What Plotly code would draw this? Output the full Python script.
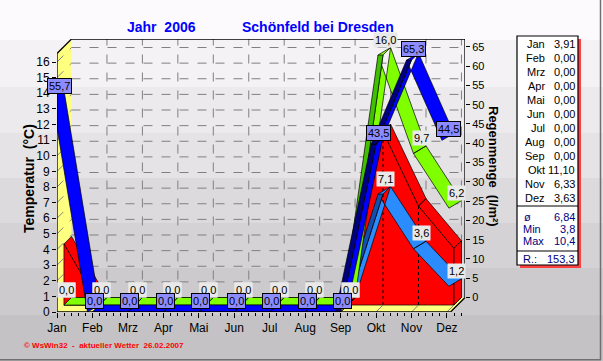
import plotly.graph_objects as go

# ---------------- data ----------------
months = ["Jan", "Feb", "Mrz", "Apr", "Mai", "Jun", "Jul", "Aug", "Sep", "Okt", "Nov", "Dez"]
temp_mean = [3.91, 0.0, 0.0, 0.0, 0.0, 0.0, 0.0, 0.0, 0.0, 11.10, 6.33, 3.63]
temp_max = [0.0, 0.0, 0.0, 0.0, 0.0, 0.0, 0.0, 0.0, 0.0, 16.0, 9.7, 6.2]
temp_min = [0.0, 0.0, 0.0, 0.0, 0.0, 0.0, 0.0, 0.0, 0.0, 7.1, 3.6, 1.2]
rain = [55.7, 0.0, 0.0, 0.0, 0.0, 0.0, 0.0, 0.0, 0.0, 43.5, 65.3, 44.5]
stat_labels = ["ø", "Min", "Max"]
stat_values = ["6,84", "3,8", "10,4"]
rain_total = "153,3"
temp_ticks = list(range(0, 17))
rain_ticks = list(range(0, 70, 5))

# ---------------- geometry (pixels) ----------------
W, H = 603, 361
PL, PR, PT, PB = 57, 465, 39, 312
MONTH_PX = 35.45
T_PX = 15.625
R_PX = 3.857
DEPTH = 14.5
XMAX = (PR - PL) / MONTH_PX
YMAX = (PB - PT) / T_PX
dX = DEPTH / MONTH_PX
dY = DEPTH / T_PX
dY2 = DEPTH / R_PX
Y2MIN = -dY2
Y2MAX = Y2MIN + (PB - PT) / R_PX
F0, F1 = 0.48, 1.0   # depth slot of the rear series
B0, B1 = 0.0, 0.48   # depth slot of the front (rain) series

def xp(px):
    return (px - PL) / (PR - PL)

def yp(py):
    return (PB - py) / (PB - PT)

xs = list(range(len(months)))
FONT = "Liberation Sans, Arial, sans-serif"


def ribbon(vals, f0, f1, dyu, yoff, w_px):
    lx, ly, dx_, dy_ = [], [], [], []
    w = w_px / MONTH_PX
    for i in range(len(vals) - 1):
        xa, xb = xs[i], xs[i + 1]
        ya, yb = vals[i] + yoff, vals[i + 1] + yoff
        fa = (xa + f0 * dX, ya + f0 * dyu)
        fb = (xb + f0 * dX, yb + f0 * dyu)
        bb = (xb + f1 * dX, yb + f1 * dyu)
        ba = (xa + f1 * dX, ya + f1 * dyu)
        if yb < ya:
            pts = ((fa[0] - w, fa[1]), (fb[0] - w, fb[1]), bb, ba, (fa[0] - w, fa[1]))
        else:
            pts = (fa, fb, bb, ba, fa)
        for p in pts:
            lx.append(p[0]); ly.append(p[1])
        lx.append(None); ly.append(None)
        if yb > ya:
            for p in ((fa[0] - w, fa[1]), (fb[0] - w, fb[1]), fb, fa, (fa[0] - w, fa[1])):
                dx_.append(p[0]); dy_.append(p[1])
            dx_.append(None); dy_.append(None)
    return lx, ly, dx_, dy_


fig = go.Figure()

# ---- red 3D area (monthly mean temperature) ----
tx, ty = [], []
for i in range(len(months) - 1):
    a, b = temp_mean[i], temp_mean[i + 1]
    pts = [(xs[i] + F0 * dX, a + F0 * dY), (xs[i + 1] + F0 * dX, b + F0 * dY),
           (xs[i + 1] + F1 * dX, b + F1 * dY), (xs[i] + F1 * dX, a + F1 * dY),
           (xs[i] + F0 * dX, a + F0 * dY)]
    for p in pts:
        tx.append(p[0]); ty.append(p[1])
    tx.append(None); ty.append(None)
fig.add_trace(go.Scatter(x=tx, y=ty, fill="toself", fillcolor="#ff0000", mode="lines",
                         line=dict(color="black", width=0.7), hoverinfo="skip", showlegend=False))
fx = [m + F0 * dX for m in xs] + [xs[-1] + F0 * dX, xs[0] + F0 * dX, xs[0] + F0 * dX]
fy = [v + F0 * dY for v in temp_mean] + [F0 * dY, F0 * dY, temp_mean[0] + F0 * dY]
fig.add_trace(go.Scatter(x=fx, y=fy, fill="toself", fillcolor="#ff0000", mode="lines",
                         line=dict(color="black", width=0.7), hoverinfo="skip", showlegend=False))
last = temp_mean[-1]
rx = [xs[-1] + F0 * dX, xs[-1] + F1 * dX, xs[-1] + F1 * dX, xs[-1] + F0 * dX, xs[-1] + F0 * dX]
ry = [last + F0 * dY, last + F1 * dY, F1 * dY, F0 * dY, last + F0 * dY]
fig.add_trace(go.Scatter(x=rx, y=ry, fill="toself", fillcolor="#ff0000", mode="lines",
                         line=dict(color="black", width=0.9), hoverinfo="skip", showlegend=False))
dlx, dly = [], []
for i in range(1, len(months) - 1):
    if temp_mean[i] > 0:
        dlx += [xs[i] + F0 * dX, xs[i] + F0 * dX, None]
        dly += [F0 * dY, temp_mean[i] + F0 * dY, None]
fig.add_trace(go.Scatter(x=dlx, y=dly, mode="lines", line=dict(color="black", width=1, dash="dot"),
                         hoverinfo="skip", showlegend=False))

# ---- ribbons ----
def add_ribbon(vals, f0, f1, dyu, yoff, light, dark, yaxis, w_px):
    lx, ly, dx_, dy_ = ribbon(vals, f0, f1, dyu, yoff, w_px)
    fig.add_trace(go.Scatter(x=lx, y=ly, fill="toself", fillcolor=light, mode="lines",
                             line=dict(color="black", width=0.7), yaxis=yaxis,
                             hoverinfo="skip", showlegend=False))
    if dx_:
        fig.add_trace(go.Scatter(x=dx_, y=dy_, fill="toself", fillcolor=dark, mode="lines",
                                 line=dict(color="black", width=0.7), yaxis=yaxis,
                                 hoverinfo="skip", showlegend=False))

add_ribbon(temp_min, F0, F1, dY, 0.0, "#2a8cff", "#1050b0", "y", 5)
add_ribbon(temp_max, F0, F1, dY, 0.0, "#80ff00", "#40c000", "y", 5)
add_ribbon(rain, B0, B1, dY2, -dY2, "#0000ff", "#000080", "y2", 5)

# ---------------- shapes ----------------
shapes = []
bands = ["#fcfafc", "#f4f2f4", "#eceaec", "#e5e3e5", "#dcdadc", "#d4d2d4", "#cccacc", "#c4c2c4"]
edges = [0, 40, 87, 133, 178, 223, 268, 315, 361]
for c, (a, b) in zip(bands, zip(edges[:-1], edges[1:])):
    shapes.append(dict(type="rect", xref="paper", yref="paper", x0=xp(0), x1=xp(W), y0=yp(b), y1=yp(a),
                       fillcolor=c, line=dict(width=0), layer="below"))
XF = XMAX - dX
shapes.append(dict(type="path", xref="x", yref="y", layer="below", fillcolor="#ffff80",
                   line=dict(width=0),
                   path=f"M 0 0 L 0 {YMAX - dY} L {dX} {YMAX} L {dX} {dY} Z"))
shapes.append(dict(type="path", xref="x", yref="y", layer="below", fillcolor="#ffff80",
                   line=dict(width=0),
                   path=f"M 0 0 L {XF} 0 L {XMAX} {dY} L {dX} {dY} Z"))
grid = dict(color="#808080", width=1, dash="dash")
for t in temp_ticks[1:]:
    shapes.append(dict(type="line", xref="x", yref="y", x0=dX, x1=XMAX, y0=t + dY, y1=t + dY,
                       line=grid, layer="below"))
    shapes.append(dict(type="line", xref="x", yref="y", x0=0, x1=dX, y0=t, y1=t + dY,
                       line=grid, layer="below"))
for m in xs[1:]:
    shapes.append(dict(type="line", xref="x", yref="y", x0=m + dX, x1=m + dX, y0=dY, y1=YMAX,
                       line=grid, layer="below"))
    shapes.append(dict(type="line", xref="x", yref="y", x0=m, x1=m + dX, y0=0, y1=dY,
                       line=grid, layer="below"))
blk = dict(color="black", width=1.3)
for (x0, y0, x1, y1) in [(0, 0, 0, YMAX - dY), (0, YMAX - dY, dX, YMAX), (dX, YMAX, XMAX, YMAX),
                         (XMAX, dY, XMAX, YMAX), (0, 0, XF, 0), (XF, 0, XMAX, dY)]:
    shapes.append(dict(type="line", xref="x", yref="y", x0=x0, y0=y0, x1=x1, y1=y1, line=blk,
                       layer="above"))
# table box
shapes.append(dict(type="rect", xref="paper", yref="paper", x0=xp(520), x1=xp(581), y0=yp(268), y1=yp(39),
                   fillcolor="#ff4040", line=dict(width=0)))
shapes.append(dict(type="rect", xref="paper", yref="paper", x0=xp(517), x1=xp(578), y0=yp(265), y1=yp(36),
                   fillcolor="white", line=dict(color="black", width=1.2)))
for yy in (206, 251):
    shapes.append(dict(type="line", xref="paper", yref="paper", x0=xp(517), x1=xp(578), y0=yp(yy), y1=yp(yy),
                       line=dict(color="black", width=1.2)))
# frame
shapes.append(dict(type="line", xref="paper", yref="paper", x0=xp(600.5), x1=xp(600.5), y0=yp(0), y1=yp(360),
                   line=dict(color="#707070", width=1.5)))
shapes.append(dict(type="line", xref="paper", yref="paper", x0=xp(0), x1=xp(601), y0=yp(359.8), y1=yp(359.8),
                   line=dict(color="#707070", width=1.5)))

# ---------------- annotations ----------------
ann = []
def fmt(v, n=1):
    return f"{v:.{n}f}".replace(".", ",")

for series in (temp_min, temp_max):
    for m, v in zip(xs, series):
        ann.append(dict(x=m, y=v + dY, xref="x", yref="y", text=fmt(v), showarrow=False,
                        xshift=9.5, yanchor="bottom", yshift=0, bgcolor="#e9e9e9", borderpad=1,
                        font=dict(family=FONT, size=11, color="black")))
for m, v in zip(xs, rain):
    ann.append(dict(x=m, y=v + (B1 - 1) * dY2, xref="x", yref="y2", text=fmt(v), showarrow=False,
                    xshift=2, yanchor="middle", yshift=4, bgcolor="#8c8cff", bordercolor="black",
                    borderwidth=1, borderpad=1, font=dict(family=FONT, size=11, color="black")))

def txt(px, py, text, size=12, color="black", xanchor="center", bold=False, angle=0):
    ann.append(dict(x=xp(px), y=yp(py), xref="paper", yref="paper", text=f"<b>{text}</b>" if bold else text,
                    showarrow=False, xanchor=xanchor, yanchor="middle", textangle=angle,
                    font=dict(family=FONT, size=size, color=color)))

txt(161, 27, "Jahr  2006", 14, "#0000ff", bold=True)
txt(318, 27, "Schönfeld bei Dresden", 14, "#0000ff", bold=True)
txt(29, 178, "Temperatur  (°C)", 14, "black", bold=True, angle=-90)
txt(494, 166, "Regenmenge  (l/m²)", 13, "black", bold=True, angle=90)
txt(22, 345, "© WsWin32  -  aktueller Wetter  26.02.2007", 8, "#ff0000", xanchor="left", bold=True)
for i, (mname, v) in enumerate(zip(months, temp_mean)):
    yy = 44 + 14 * i
    txt(547, yy, mname, 11, xanchor="right")
    txt(577, yy, fmt(v, 2), 11, xanchor="right")
for i, (lab, val) in enumerate(zip(stat_labels, stat_values)):
    yy = 217 + 12 * i
    if lab == "ø":
        txt(527, yy, lab, 11, "#000080", xanchor="center")
    else:
        txt(521, yy, lab, 11, "#000080", xanchor="left")
    txt(577, yy, val, 11, "#000080", xanchor="right")
txt(521, 259, "R.:", 11, "#000080", xanchor="left")
txt(577, 259, rain_total, 11, "#000080", xanchor="right")

fig.update_layout(
    width=W, height=H, margin=dict(l=PL, r=W - PR, t=PT, b=H - PB, pad=0),
    paper_bgcolor="#fcfafc", plot_bgcolor="rgba(0,0,0,0)",
    showlegend=False, shapes=shapes, annotations=ann,
    xaxis=dict(range=[0, XMAX], tickvals=xs, ticktext=months, ticks="outside", ticklen=5,
               tickcolor="black", showgrid=False, zeroline=False, showline=False,
               tickfont=dict(family=FONT, size=12, color="black"),
               minor=dict(tick0=0, dtick=0.2, ticks="outside", ticklen=3, tickcolor="black", showgrid=False)),
    yaxis=dict(range=[0, YMAX], tickvals=temp_ticks, ticks="outside", ticklen=4, tickcolor="black",
               showgrid=False, zeroline=False, showline=False,
               tickfont=dict(family=FONT, size=12, color="black")),
    yaxis2=dict(range=[Y2MIN, Y2MAX], overlaying="y", side="right", anchor="x", tickvals=rain_ticks,
                ticks="outside", ticklen=4, tickcolor="black", showgrid=False, zeroline=False,
                showline=False, tickfont=dict(family=FONT, size=11, color="black")),
)

fig.write_html("out.html", config={"displayModeBar": False},
               post_script="document.body.style.margin='0px';document.body.style.overflow='hidden';")
